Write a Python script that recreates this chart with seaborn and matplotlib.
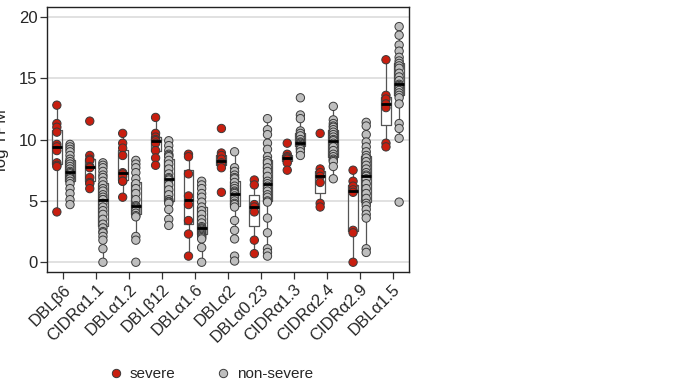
import matplotlib
matplotlib.use("Agg")
import matplotlib.pyplot as plt
from matplotlib.lines import Line2D
import numpy as np
import pandas as pd
import seaborn as sns

# Domain categories in plotting order
domains = ["DBLβ6", "CIDRα1.1", "DBLα1.2", "DBLβ12", "DBLα1.6", "DBLα2",
           "DBLα0.23", "CIDRα1.3", "CIDRα2.4", "CIDRα2.9", "DBLα1.5"]

# log TPM per domain, severe cases
severe = [
    [12.8, 11.3, 11.0, 10.6, 9.6, 9.4, 9.1, 8.1, 7.9, 7.8, 4.1],
    [11.5, 8.7, 8.4, 8.3, 7.8, 7.7, 6.9, 6.5, 6.4, 6.0],
    [10.5, 9.7, 9.3, 8.7, 7.3, 7.2, 7.0, 6.6, 6.6, 5.3],
    [11.8, 10.5, 10.2, 10.0, 9.9, 9.7, 9.1, 8.5, 7.9],
    [8.8, 8.6, 7.2, 5.4, 4.7, 3.4, 2.3, 0.5],
    [10.9, 8.9, 8.7, 8.4, 8.1, 8.0, 7.7, 5.7],
    [6.7, 6.3, 4.7, 4.5, 4.1, 1.8, 0.7],
    [9.7, 8.8, 8.6, 8.5, 8.4, 8.1, 7.5],
    [10.5, 7.6, 7.3, 7.0, 6.5, 4.8, 4.5],
    [7.5, 6.6, 6.2, 5.9, 5.7, 2.6, 2.4, 0.0],
    [16.5, 13.6, 13.3, 12.9, 12.6, 9.7, 9.4],
]

# log TPM per domain, non-severe cases
non_severe = [
    [9.6, 9.4, 9.2, 9.0, 8.7, 8.4, 8.2, 8.0, 7.8, 7.6, 7.4, 7.3, 7.2, 7.0,
     6.9, 6.8, 6.6, 6.4, 6.0, 5.6, 5.1, 4.7],
    [8.1, 7.9, 7.7, 7.4, 7.1, 6.9, 6.6, 6.3, 6.0, 5.8, 5.5, 5.3, 5.1, 5.1,
     4.8, 4.5, 4.2, 3.9, 3.5, 3.1, 2.8, 2.5, 2.4, 2.1, 1.8, 1.1, 0.0],
    [8.3, 8.0, 7.7, 7.3, 6.8, 6.4, 6.0, 5.6, 5.1, 4.6, 4.6, 4.5, 4.4, 4.2,
     4.0, 3.8, 3.7, 2.1, 1.8, 0.0],
    [9.9, 9.5, 9.1, 8.8, 8.7, 8.6, 8.3, 8.0, 7.6, 7.2, 6.9, 6.8, 6.7, 6.3,
     5.9, 5.5, 5.1, 4.95, 4.9, 4.8, 4.3, 3.5, 3.0],
    [6.6, 6.3, 6.0, 5.6, 5.3, 4.9, 4.5, 4.2, 3.9, 3.5, 3.2, 2.9, 2.8, 2.7,
     2.7, 2.6, 2.5, 2.4, 2.3, 2.2, 2.1, 2.0, 1.9, 1.2, 0.0],
    [9.0, 7.7, 7.4, 7.1, 6.9, 6.8, 6.5, 6.2, 6.0, 5.8, 5.7, 5.6, 5.4, 5.2,
     5.0, 4.8, 4.7, 4.5, 3.4, 2.6, 1.9, 0.5, 0.1],
    [11.7, 10.8, 10.4, 9.7, 9.2, 8.6, 8.3, 8.1, 7.7, 7.4, 7.0, 6.6, 6.4, 6.2,
     6.0, 5.8, 5.5, 5.3, 5.0, 4.9, 3.6, 2.4, 1.1, 0.8, 0.5],
    [13.4, 12.0, 11.7, 10.7, 10.5, 10.3, 10.0, 9.8, 9.7, 9.7, 9.6, 9.5, 9.3,
     9.2, 9.0, 8.7],
    [12.7, 11.6, 11.3, 11.1, 11.0, 10.8, 10.6, 10.4, 10.2, 10.0, 9.9, 9.7,
     9.4, 9.1, 8.8, 8.6, 8.4, 8.3, 8.2, 7.8, 6.8],
    [11.4, 11.1, 10.4, 9.8, 9.4, 9.0, 8.7, 8.5, 8.2, 7.9, 7.6, 7.3, 7.1, 7.0,
     6.8, 6.4, 6.0, 5.6, 5.2, 4.8, 4.6, 4.3, 3.9, 3.6, 1.1, 0.8],
    [19.2, 18.5, 17.7, 17.2, 16.7, 16.4, 16.2, 16.0, 15.8, 15.4, 15.1, 14.8,
     14.5, 14.4, 14.3, 14.2, 14.0, 13.8, 13.6, 13.4, 12.9, 11.3, 10.9, 10.1,
     4.9],
]

groups = ["severe", "non-severe"]
group_colors = {"severe": "#C81E0F", "non-severe": "#BEBEBE"}
box_line = "#555555"
point_edge = "#3A3A3A"

rows = []
for d, s_vals, n_vals in zip(domains, severe, non_severe):
    rows += [(d, "severe", v) for v in s_vals]
    rows += [(d, "non-severe", v) for v in n_vals]
df = pd.DataFrame(rows, columns=["domain", "group", "logTPM"])

sns.set_theme(style="white")
plt.rcParams["font.family"] = ["Liberation Sans", "DejaVu Sans"]

fig = plt.figure(figsize=(6.95, 3.87), dpi=100)
ax = fig.add_axes([0.0676, 0.297, 0.5209, 0.685])

for yv in [0, 5, 10, 15, 20]:
    ax.axhline(yv, color="#DCDCDC", lw=1.2, zorder=0)

sns.boxplot(data=df, x="domain", y="logTPM", hue="group", order=domains,
            hue_order=groups, dodge=True, width=0.8, gap=0.25, fill=False,
            showfliers=False, showcaps=False, linewidth=0.9,
            palette={g: box_line for g in groups}, legend=False, ax=ax,
            medianprops=dict(color="black", lw=2.0, zorder=5))

sns.stripplot(data=df, x="domain", y="logTPM", hue="group", order=domains,
              hue_order=groups, dodge=True, jitter=False, size=6,
              palette=group_colors, edgecolor=point_edge, linewidth=0.7,
              legend=False, ax=ax, zorder=3)

ax.set_xlim(-0.5, len(domains) - 0.5)
ax.set_ylim(-0.8, 20.8)
ax.set_yticks([0, 5, 10, 15, 20])
ax.set_xlabel("")
ax.set_ylabel("log TPM", fontsize=12)
ax.yaxis.set_label_coords(-0.106, 0.5)
ax.tick_params(axis="both", direction="out", length=5, width=0.9,
               color="#333333", labelsize=12, bottom=True, left=True, pad=2)
plt.setp(ax.get_xticklabels(), rotation=45, ha="right",
         rotation_mode="anchor")
for sp in ax.spines.values():
    sp.set_visible(True)
    sp.set_color("#222222")
    sp.set_linewidth(1.0)

handles = [Line2D([], [], marker="o", ls="", markersize=6,
                  markerfacecolor=group_colors[g], markeredgecolor=point_edge,
                  markeredgewidth=0.7, label=g) for g in groups]
fig.legend(handles=handles, loc="center", bbox_to_anchor=(0.304, 0.033),
           ncol=2, frameon=False, fontsize=11, handlelength=0.8,
           handletextpad=0.5, columnspacing=2.75)

fig.savefig("out.png", dpi=100)
